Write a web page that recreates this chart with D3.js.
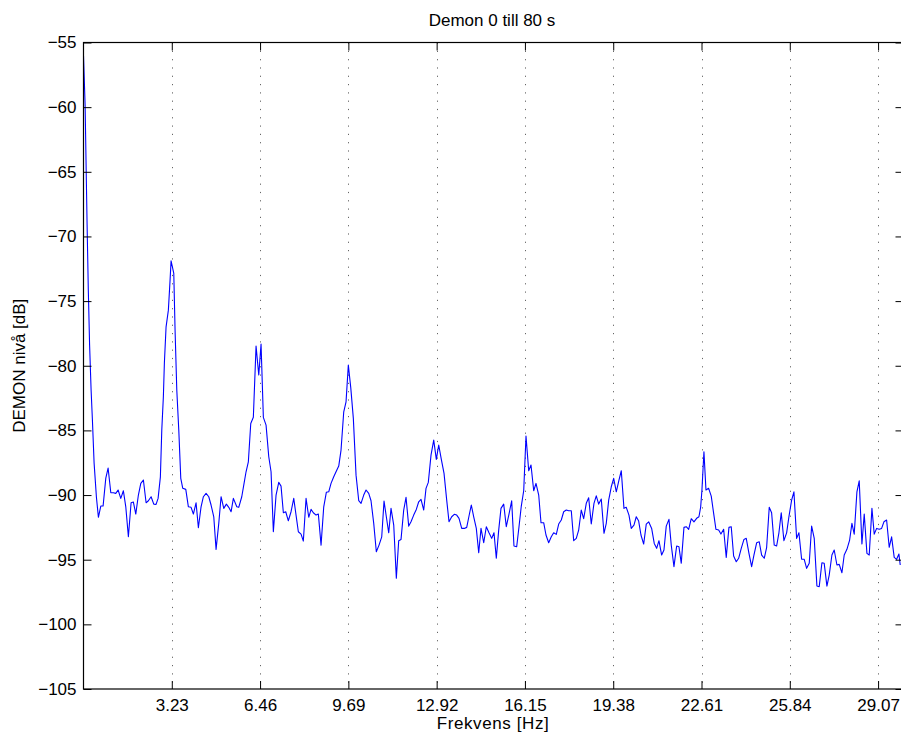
<!DOCTYPE html>
<html>
<head>
<meta charset="utf-8">
<script src="https://cdn.jsdelivr.net/npm/d3@7"></script>
<style>
  html, body { margin: 0; padding: 0; background: #fff; }
  svg { display: block; font-family: "Liberation Sans", Arial, Helvetica, sans-serif; }
</style>
</head>
<body>
<svg id="chart" width="901" height="736"></svg>
<script>
// DEMON spectrum, 0–80 s: frequency (Hz) and level (dB)
const freqHz = [
  0.00, 0.059, 0.095, 0.132, 0.176, 0.223, 0.278, 0.326, 0.388, 0.472,
  0.545, 0.633, 0.717, 0.816, 0.900, 0.999, 1.094, 1.181, 1.266, 1.364,
  1.459, 1.547, 1.642, 1.741, 1.825, 1.913, 2.008, 2.096, 2.191, 2.290,
  2.374, 2.473, 2.571, 2.655, 2.729, 2.813, 2.864, 2.922, 2.959, 3.021,
  3.105, 3.167, 3.204, 3.252, 3.303, 3.350, 3.413, 3.486, 3.559, 3.632,
  3.742, 3.837, 3.936, 4.020, 4.118, 4.203, 4.301, 4.386, 4.484, 4.583,
  4.667, 4.766, 4.850, 4.949, 5.033, 5.132, 5.227, 5.315, 5.399, 5.483,
  5.608, 5.680, 5.790, 5.874, 5.947, 6.031, 6.119, 6.214, 6.313, 6.412,
  6.496, 6.580, 6.679, 6.778, 6.862, 6.946, 7.045, 7.143, 7.227, 7.312,
  7.399, 7.494, 7.593, 7.692, 7.776, 7.860, 7.959, 8.043, 8.142, 8.241,
  8.325, 8.409, 8.508, 8.592, 8.691, 8.789, 8.884, 8.972, 9.056, 9.155,
  9.239, 9.338, 9.422, 9.521, 9.605, 9.689, 9.777, 9.872, 9.971, 10.070,
  10.154, 10.252, 10.337, 10.435, 10.519, 10.618, 10.713, 10.812, 10.911, 10.995,
  11.079, 11.167, 11.251, 11.350, 11.445, 11.532, 11.617, 11.715, 11.800, 11.898,
  11.982, 12.081, 12.176, 12.264, 12.348, 12.447, 12.531, 12.615, 12.714, 12.813,
  12.908, 12.996, 13.091, 13.190, 13.288, 13.372, 13.471, 13.566, 13.654, 13.738,
  13.837, 13.932, 14.020, 14.104, 14.188, 14.276, 14.371, 14.459, 14.543, 14.642,
  14.737, 14.835, 14.934, 15.018, 15.103, 15.190, 15.274, 15.373, 15.468, 15.567,
  15.665, 15.749, 15.848, 15.933, 16.017, 16.105, 16.189, 16.288, 16.372, 16.471,
  16.555, 16.654, 16.738, 16.836, 16.920, 17.019, 17.114, 17.202, 17.297, 17.385,
  17.480, 17.568, 17.663, 17.751, 17.846, 17.934, 18.029, 18.116, 18.211, 18.299,
  18.394, 18.482, 18.577, 18.676, 18.760, 18.848, 18.943, 19.042, 19.126, 19.214,
  19.309, 19.397, 19.492, 19.590, 19.675, 19.773, 19.857, 19.956, 20.040, 20.139,
  20.223, 20.311, 20.395, 20.494, 20.589, 20.677, 20.786, 20.881, 20.969, 21.053,
  21.152, 21.236, 21.320, 21.419, 21.503, 21.602, 21.701, 21.785, 21.869, 21.968,
  22.052, 22.140, 22.235, 22.334, 22.432, 22.516, 22.578, 22.626, 22.699, 22.773,
  22.871, 22.966, 23.054, 23.138, 23.237, 23.321, 23.420, 23.515, 23.614, 23.698,
  23.785, 23.881, 23.969, 24.064, 24.163, 24.247, 24.346, 24.444, 24.528, 24.627,
  24.722, 24.810, 24.905, 24.992, 25.088, 25.175, 25.270, 25.358, 25.442, 25.527,
  25.625, 25.724, 25.808, 25.907, 25.991, 26.090, 26.174, 26.273, 26.368, 26.456,
  26.551, 26.639, 26.734, 26.832, 26.916, 27.015, 27.099, 27.198, 27.282, 27.381,
  27.465, 27.564, 27.648, 27.747, 27.831, 27.930, 28.029, 28.113, 28.197, 28.296,
  28.380, 28.479, 28.563, 28.662, 28.746, 28.845, 28.929, 29.017, 29.112, 29.199,
  29.284, 29.382, 29.477, 29.565, 29.660, 29.748, 29.832, 29.880
];

const levelDb = [
  -56.00, -59.85, -64.49, -69.13, -74.15, -78.40, -81.88, -84.20, -87.53, -90.15,
  -91.72, -90.85, -90.85, -88.69, -87.91, -89.82, -89.82, -89.87, -89.61, -90.26,
  -89.67, -90.91, -93.23, -90.60, -90.54, -91.47, -90.00, -89.10, -88.84, -90.60,
  -90.44, -90.13, -90.70, -90.72, -90.26, -88.59, -84.98, -82.40, -79.79, -76.99,
  -75.70, -73.38, -71.89, -72.35, -72.86, -77.24, -81.88, -84.98, -88.71, -89.48,
  -89.56, -90.91, -90.95, -91.47, -90.60, -92.53, -90.91, -90.13, -89.87, -90.13,
  -90.77, -91.68, -94.20, -92.19, -90.13, -91.03, -90.70, -90.95, -91.29, -90.26,
  -90.91, -90.95, -90.13, -89.10, -88.20, -87.43, -84.46, -83.99, -78.48, -80.72,
  -78.33, -83.99, -84.59, -87.04, -88.20, -92.84, -90.00, -89.02, -89.31, -91.37,
  -91.29, -91.99, -91.29, -90.26, -91.55, -92.84, -93.02, -93.56, -90.26, -91.72,
  -91.11, -91.37, -91.55, -91.47, -93.87, -90.91, -89.79, -89.75, -89.10, -88.59,
  -88.20, -87.76, -86.52, -83.56, -82.79, -79.95, -81.67, -84.07, -88.46, -90.44,
  -90.64, -90.00, -89.61, -89.87, -90.44, -92.19, -94.38, -93.87, -93.23, -90.46,
  -91.68, -92.92, -91.03, -92.32, -96.44, -93.53, -93.43, -91.16, -90.18, -92.40,
  -92.07, -91.55, -91.11, -90.52, -90.33, -91.16, -89.48, -89.02, -86.91, -85.75,
  -87.24, -86.13, -87.24, -88.32, -90.39, -92.07, -91.68, -91.49, -91.55, -91.80,
  -92.58, -92.58, -92.50, -91.62, -90.77, -91.68, -92.58, -94.46, -92.58, -93.69,
  -92.45, -92.92, -93.35, -92.92, -94.89, -92.71, -91.03, -90.70, -92.45, -91.47,
  -90.45, -93.94, -94.00, -92.45, -90.85, -89.67, -85.44, -88.12, -87.68, -89.67,
  -89.10, -90.00, -92.14, -92.14, -93.09, -93.69, -93.23, -92.92, -93.04, -92.24,
  -91.93, -91.29, -91.16, -91.21, -91.21, -93.53, -93.35, -92.71, -91.16, -91.83,
  -90.64, -90.21, -92.24, -90.64, -90.06, -90.70, -90.31, -92.96, -92.19, -90.39,
  -89.36, -88.71, -89.75, -88.84, -88.12, -91.03, -90.95, -91.55, -92.58, -92.32,
  -91.68, -92.01, -93.09, -93.79, -92.25, -92.07, -92.58, -93.74, -94.12, -93.53,
  -94.64, -94.25, -92.40, -91.88, -93.87, -95.54, -93.94, -94.00, -95.28, -92.50,
  -92.45, -92.65, -91.83, -92.07, -91.80, -91.68, -90.95, -89.61, -86.65, -89.61,
  -89.48, -90.08, -91.42, -92.65, -92.71, -93.02, -92.65, -94.82, -92.50, -92.45,
  -94.72, -95.16, -94.89, -94.12, -93.43, -93.35, -94.51, -95.54, -94.64, -93.69,
  -93.61, -94.64, -94.89, -94.07, -90.95, -91.37, -93.87, -93.94, -92.92, -91.37,
  -93.53, -92.92, -91.68, -90.39, -89.75, -93.35, -92.92, -94.97, -94.97, -95.67,
  -95.28, -92.40, -93.35, -97.04, -97.09, -95.24, -95.28, -97.04, -96.19, -94.64,
  -94.25, -95.41, -95.36, -96.01, -94.64, -94.20, -93.48, -92.19, -93.02, -89.75,
  -88.90, -93.79, -91.47, -94.51, -94.64, -91.03, -93.02, -92.58, -92.65, -92.58,
  -92.07, -91.93, -94.04, -93.23, -94.82, -94.97, -94.56, -95.41
];

// Axis ticks: multiples of the 3.23 Hz fundamental, and 5 dB steps
const xTicks = [3.23, 6.46, 9.69, 12.92, 16.15, 19.38, 22.61, 25.84, 29.07];
const yTicks = [-105, -100, -95, -90, -85, -80, -75, -70, -65, -60, -55];

const titleText = "Demon 0 till 80 s";
const xLabelText = "Frekvens [Hz]";
const yLabelText = "DEMON nivå [dB]";

const points = freqHz.map((f, i) => ({ f, db: levelDb[i] }));

const svg = d3.select("#chart");
const plot = { left: 83.5, top: 42.5, right: 903.5, bottom: 689 };

const x = d3.scaleLinear().domain([0, 30]).range([plot.left, plot.right]);
const y = d3.scaleLinear().domain([-105, -55]).range([plot.bottom, plot.top]);

const tickLen = 8;
const fontSize = 17;
const fontFamily = "Liberation Sans, Arial, sans-serif";

// clip region for the spectrum line
svg.append("defs").append("clipPath").attr("id", "plotClip")
  .append("rect")
  .attr("x", plot.left).attr("y", plot.top)
  .attr("width", plot.right - plot.left).attr("height", plot.bottom - plot.top);

// dotted vertical grid at the x ticks
svg.append("g")
  .selectAll("line")
  .data(xTicks)
  .join("line")
  .attr("x1", d => Math.round(x(d)) + 0.5)
  .attr("x2", d => Math.round(x(d)) + 0.5)
  .attr("y1", plot.top)
  .attr("y2", plot.bottom)
  .attr("stroke", "#666")
  .attr("stroke-width", 1)
  .attr("stroke-dasharray", "1.2,7.1");

// spectrum line
svg.append("path")
  .datum(points)
  .attr("clip-path", "url(#plotClip)")
  .attr("fill", "none")
  .attr("stroke", "#0000ff")
  .attr("stroke-width", 1.1)
  .attr("stroke-linejoin", "round")
  .attr("d", d3.line().x(d => x(d.f)).y(d => y(d.db)));

// bottom axis (inward ticks, labels below)
const xAxisBottom = d3.axisBottom(x)
  .tickValues(xTicks)
  .tickFormat(d3.format(".2f"))
  .tickSizeInner(-tickLen)
  .tickSizeOuter(0)
  .tickPadding(10);

svg.append("g")
  .attr("transform", `translate(0,${plot.bottom})`)
  .call(xAxisBottom)
  .call(g => g.select(".domain").remove())
  .call(g => g.selectAll("line").attr("stroke", "#000"))
  .call(g => g.selectAll("text")
    .attr("fill", "#000")
    .attr("font-size", fontSize)
    .attr("font-family", fontFamily));

// top axis ticks only
svg.append("g")
  .attr("transform", `translate(0,${plot.top})`)
  .call(d3.axisTop(x).tickValues(xTicks).tickFormat("").tickSizeInner(-tickLen).tickSizeOuter(0))
  .call(g => g.select(".domain").remove())
  .call(g => g.selectAll("line").attr("stroke", "#000"));

// left axis (inward ticks, labels left)
const yAxisLeft = d3.axisLeft(y)
  .tickValues(yTicks)
  .tickFormat(d3.format("d"))
  .tickSizeInner(-tickLen)
  .tickSizeOuter(0)
  .tickPadding(7);

svg.append("g")
  .attr("transform", `translate(${plot.left},0)`)
  .call(yAxisLeft)
  .call(g => g.select(".domain").remove())
  .call(g => g.selectAll("line").attr("stroke", "#000"))
  .call(g => g.selectAll("text")
    .attr("fill", "#000")
    .attr("font-size", fontSize)
    .attr("font-family", fontFamily));

// right axis ticks only
svg.append("g")
  .attr("transform", `translate(${plot.right},0)`)
  .call(d3.axisRight(y).tickValues(yTicks).tickFormat("").tickSizeInner(-tickLen).tickSizeOuter(0))
  .call(g => g.select(".domain").remove())
  .call(g => g.selectAll("line").attr("stroke", "#000"));

// plot box
svg.append("rect")
  .attr("x", plot.left).attr("y", plot.top)
  .attr("width", plot.right - plot.left).attr("height", plot.bottom - plot.top)
  .attr("fill", "none")
  .attr("stroke", "#000")
  .attr("stroke-width", 1.2);

// title and axis labels
svg.append("text")
  .attr("x", 492)
  .attr("y", 26)
  .attr("text-anchor", "middle")
  .attr("font-size", fontSize)
  .attr("font-family", fontFamily)
  .text(titleText);

svg.append("text")
  .attr("x", 493)
  .attr("y", 729)
  .attr("text-anchor", "middle")
  .attr("font-size", fontSize)
  .attr("font-family", fontFamily)
  .attr("letter-spacing", 0.6)
  .text(xLabelText);

svg.append("text")
  .attr("transform", `translate(25,${(plot.top + plot.bottom) / 2}) rotate(-90)`)
  .attr("text-anchor", "middle")
  .attr("font-size", fontSize)
  .attr("font-family", fontFamily)
  .text(yLabelText);
</script>
</body>
</html>
